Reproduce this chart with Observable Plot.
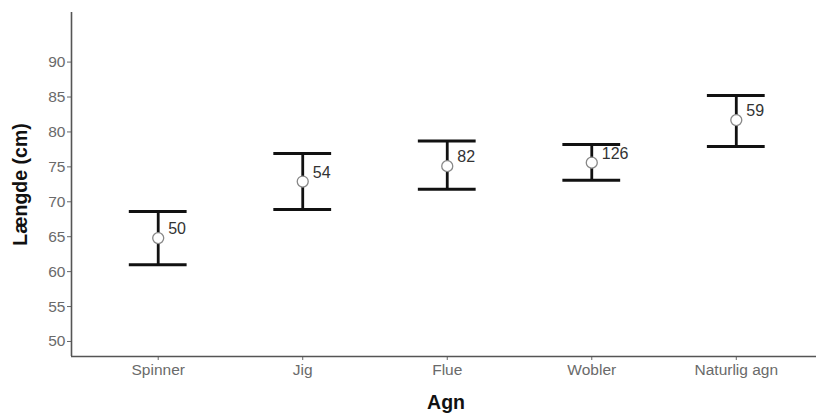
<!DOCTYPE html>
<html>
<head>
<meta charset="utf-8">
<script src="https://cdn.jsdelivr.net/npm/d3@7"></script>
<script src="https://cdn.jsdelivr.net/npm/@observablehq/plot@0.6"></script>
<style>
  html, body { margin: 0; padding: 0; background: #fff; }
  svg { font-family: "Liberation Sans", Arial, sans-serif; }
</style>
</head>
<body>
<div id="chart"></div>
<script>
const categories = ["Spinner", "Jig", "Flue", "Wobler", "Naturlig agn"];
const means = [64.8, 72.9, 75.1, 75.6, 81.7];
const lower = [61.0, 68.9, 71.8, 73.1, 77.9];
const upper = [68.6, 76.9, 78.7, 78.2, 85.2];
const counts = [50, 54, 82, 126, 59];
const yTicks = [50, 55, 60, 65, 70, 75, 80, 85, 90];

const data = categories.map((c, i) => ({
  i, cat: c, mean: means[i], lo: lower[i], hi: upper[i], n: counts[i]
}));

const yMin = 47.85, yMax = 97.1;
const capHalf = 0.2;

const chart = Plot.plot({
  width: 816,
  height: 415,
  marginLeft: 71,
  marginRight: 0,
  marginTop: 12,
  marginBottom: 59,
  style: { fontFamily: "Liberation Sans, Arial, sans-serif", background: "#fff" },
  x: { type: "linear", domain: [-0.6, 4.555], label: null },
  y: { domain: [yMin, yMax], label: null },
  marks: [
    Plot.axisX({ ticks: categories.map((c, i) => i), tickFormat: i => categories[i], tickSize: 4, tickPadding: 3, fontSize: 15.5, color: "#6a6a6a", stroke: "#666", label: null }),
    Plot.axisY({ ticks: yTicks, tickSize: 4, tickPadding: 2, fontSize: 15.5, color: "#6a6a6a", stroke: "#666", label: null }),
    Plot.ruleY([yMin], { stroke: "#555", strokeWidth: 1.6 }),
    Plot.ruleX([-0.6], { stroke: "#555", strokeWidth: 1.6 }),
    Plot.ruleX(data, { x: "i", y1: "lo", y2: "hi", stroke: "#111", strokeWidth: 2.8 }),
    Plot.ruleY(data, { y: "lo", x1: d => d.i - capHalf, x2: d => d.i + capHalf, stroke: "#111", strokeWidth: 3 }),
    Plot.ruleY(data, { y: "hi", x1: d => d.i - capHalf, x2: d => d.i + capHalf, stroke: "#111", strokeWidth: 3 }),
    Plot.dot(data, { x: "i", y: "mean", r: 5.5, fill: "white", stroke: "#888", strokeWidth: 1.3 }),
    Plot.text(data, { x: "i", y: "mean", text: d => String(d.n), dx: 10, dy: -9, textAnchor: "start", fontSize: 16, fill: "#333" }),
    Plot.text(["Længde (cm)"], { frameAnchor: "left", textAnchor: "middle", rotate: -90, dx: -51, fontSize: 19.5, fontWeight: "bold", fill: "#111" }),
    Plot.text(["Agn"], { frameAnchor: "bottom", textAnchor: "middle", dx: 2, dy: 52, fontSize: 19.5, fontWeight: "bold", fill: "#111" })
  ]
});
document.getElementById("chart").appendChild(chart);
</script>
</body>
</html>
